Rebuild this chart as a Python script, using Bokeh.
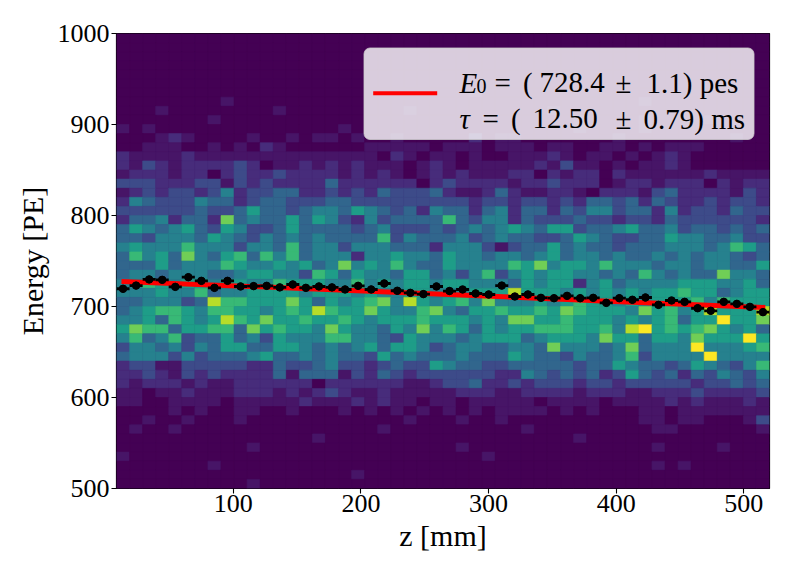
import numpy as np
from bokeh.plotting import figure
from bokeh.models import LinearColorMapper, BoxAnnotation, Label, FixedTicker, ColumnDataSource
from bokeh.transform import transform
from bokeh.embed import file_html
from bokeh.resources import INLINE
from bokeh.palettes import Viridis256

# ---------------- data ----------------
z_lo, z_hi, n_z = 8.5, 520.1, 50          # z [mm] binning
e_lo, e_hi, n_e = 500.0, 1000.0, 50       # Energy [PE] binning

# 2D histogram counts (colour level 0..10, 'A' = 10), top row = 990-1000 PE
hist_rows = [
    "0000000000000000000000000" "0000000000000000000000000",
    "0000000000000000000000000" "0000000000000000000000000",
    "0000000000000000000000000" "0000000000000000000000000",
    "0000000000000000000000000" "0000000000000000000000000",
    "0000000000000000000000000" "0000000000000000000000000",
    "0000000000000000000000000" "0000000000000000000000000",
    "0000000000000000000000000" "0010000000000000000000000",
    "0000000010000000000000000" "0000000000000001000000000",
    "0001000000001000000000100" "0000000010000000000000000",
    "0000000100000000000000000" "0001000000100001000010000",
    "1010000000000000010000000" "0000000000100001000000000",
    "0001210000100101101001000" "0020110000000100000000100",
    "0011100101021000000111110" "1110111011001101011100000",
    "2111121111111111111102101" "1010011121011010121000000",
    "2132122223201121212111012" "1011111213110101121000000",
    "1222122023223222212121012" "1211122021220211111121111",
    "3332223313232222422222202" "3222212232220122122202122",
    "1232332352334422323243334" "2112421122102221342222132",
    "2543335442344333443333333" "3323323323244342432232332",
    "3333334334644345546543425" "4424524424355344252332433",
    "2445244284544646532534444" "7435524333433233243333332",
    "4654564365334644443453334" "3454565466344564453443434",
    "4435554654354545444473544" "4534544334654334465544533",
    "5655575553554745535554442" "5553134464544344455545764",
    "4756485467475745552556554" "6554554564554544545455434",
    "4446455576556564585657544" "6555576856657555455455446",
    "4554555445665537646554664" "5357356566554547545448554",
    "5576566566557666557565665" "6655546566256455556665564",
    "5556557455666656665655665" "5566696665656565667664566",
    "4455534977666864656785965" "6758555656766565666757666",
    "4567765776656769766865578" "5466766768766658675696669",
    "5564765697686676676566676" "665658866766656567466A668",
    "6877466774867665865546585" "764656677766759A676786564",
    "5745734464536555775543655" "54566645666586646658666A6",
    "3554535466446654545646653" "4554455485554584555A55567",
    "4555353444564454544364544" "45444654435445735555A5555",
    "2331133333224334533234336" "5443344444344654434654357",
    "2232132322224144413243233" "3333225434342364342435435",
    "2122212112222220222222112" "3342232333233233333233434",
    "1101121112221212321121111" "1222112222122211222322223",
    "1100111101111121112121101" "1011111011110111121211121",
    "0000101001100100010101010" "1010111101010001101111111",
    "0010010001000000000000100" "0100100000000001101100013",
    "0100100000000000000010000" "0000001000000000110000001",
    "0000000000000001000000000" "0000000000100000000000000",
    "0000000000100000000000000" "0100000000000000100001000",
    "1000000000000000000000000" "0001000000000000000000000",
    "0000000100000000000000000" "0000000000000000101000000",
    "0000000000000000001000000" "0000000000000000000000000",
    "0000000000100000000000000" "0000000000000000000000000",
]

# profile: mean energy per z bin, and its error
profile_E = [719.5, 723.0, 729.7, 729.3, 721.6, 732.2, 728.2, 720.5, 728.2, 722.0,
             722.4, 722.7, 721.0, 724.2, 720.5, 722.0, 721.0, 718.7, 722.7, 718.7,
             725.3, 717.3, 715.0, 713.6, 722.0, 717.0, 718.7, 714.3, 713.2, 723.0,
             711.0, 713.2, 709.5, 709.1, 711.7, 709.1, 709.5, 704.0, 709.1, 707.4,
             709.9, 701.8, 706.6, 705.1, 698.1, 695.3, 705.1, 702.9, 699.6, 693.8]
profile_err = [4.2, 4.0, 4.0, 4.1, 3.9, 4.0, 4.1, 3.9, 4.0, 4.0,
               3.9, 4.0, 4.0, 4.1, 3.9, 4.0, 4.0, 4.0, 3.9, 4.0,
               4.1, 4.0, 3.9, 4.0, 4.0, 4.0, 3.9, 4.0, 4.1, 4.0,
               3.9, 4.0, 4.0, 3.9, 4.0, 4.0, 4.0, 3.9, 4.0, 4.0,
               4.1, 4.0, 3.9, 4.0, 4.0, 4.1, 4.0, 4.0, 4.1, 4.2]

# fitted exponential
fit_z = [12.4, 140.0, 264.0, 394.0, 516.8]
fit_E = [727.4, 720.6, 713.5, 705.9, 698.9]

legend_line1 = ["E", "0", "=", "(", "728.4", "\u00b1", "1.1) pes"]
legend_line2 = ["\u03c4", "=", "(", "12.50", "\u00b1", "0.79) ms"]

# ---------------- build ----------------
zw = (z_hi - z_lo) / n_z
ew = (e_hi - e_lo) / n_e
xs, ys, cs = [], [], []
for r, row in enumerate(hist_rows):
    row = row[:n_z].ljust(n_z, "0")
    for c, ch in enumerate(row):
        xs.append(z_lo + (c + 0.5) * zw)
        ys.append(e_hi - (r + 0.5) * ew)
        cs.append(int(ch, 16))
hsrc = ColumnDataSource(dict(x=xs, y=ys, c=cs))

idx = [0, 14, 32, 58, 84, 112, 142, 172, 200, 228, 255]
pal = [Viridis256[i] for i in idx]
mapper = LinearColorMapper(palette=pal, low=-0.5, high=10.5)

FONT = "Liberation Serif"
FR_L, FR_T, FR_W, FR_H = 116, 33, 653, 455   # frame position in the picture

def px_x(px):
    return z_lo + (px - FR_L) * (z_hi - z_lo) / FR_W

def px_y(py):
    return e_hi - (py - FR_T) * (e_hi - e_lo) / FR_H

p = figure(frame_width=FR_W, frame_height=FR_H,
           x_range=(z_lo, z_hi), y_range=(e_lo, e_hi),
           output_backend="svg", toolbar_location=None,
           min_border_left=FR_L, min_border_right=15,
           min_border_top=FR_T, min_border_bottom=80)
p.background_fill_color = pal[0]
p.border_fill_color = "white"
p.grid.visible = False
p.outline_line_color = "black"
p.outline_line_width = 1.2

p.rect(x="x", y="y", width=zw, height=ew, source=hsrc,
       fill_color=transform("c", mapper), line_color=transform("c", mapper), line_width=0.6)

p.line(fit_z, fit_E, line_color="#ff0000", line_width=5)

zc = [z_lo + (i + 0.5) * zw for i in range(n_z)]
p.segment(x0=[z - zw / 2 for z in zc], y0=profile_E, x1=[z + zw / 2 for z in zc], y1=profile_E,
          line_color="black", line_width=2.8)
p.segment(x0=zc, y0=[e - d for e, d in zip(profile_E, profile_err)],
          x1=zc, y1=[e + d for e, d in zip(profile_E, profile_err)],
          line_color="black", line_width=2.8)
p.scatter(zc, profile_E, size=7.5, marker="circle", fill_color="black", line_color="black")

# axes
for ax in (p.xaxis[0], p.yaxis[0]):
    ax.axis_line_color = None
    ax.major_tick_line_color = "black"
    ax.major_tick_line_width = 1.1
    ax.major_tick_out = 5
    ax.major_tick_in = 0
    ax.minor_tick_line_color = None
    ax.major_label_text_font = FONT
    ax.major_label_text_font_size = "26px"
    ax.major_label_text_color = "black"
    ax.axis_label_text_font = FONT
    ax.axis_label_text_font_size = "30px"
    ax.axis_label_text_font_style = "normal"
    ax.axis_label_text_color = "black"
p.xaxis.ticker = FixedTicker(ticks=[100, 200, 300, 400, 500])
p.yaxis.ticker = FixedTicker(ticks=[500, 600, 700, 800, 900, 1000])
p.xaxis.axis_label = "z [mm]"
p.yaxis.axis_label = "Energy [PE]"
p.xaxis.major_label_standoff = 1
p.yaxis.major_label_standoff = 2
p.xaxis.axis_label_standoff = 4
p.yaxis.axis_label_standoff = 6

# legend (drawn by hand)
p.add_layout(BoxAnnotation(left=px_x(363.5), right=px_x(753.5), top=px_y(47.5), bottom=px_y(139),
                           fill_color="white", fill_alpha=0.8, line_color="#cccccc", line_alpha=0.8,
                           line_width=1, border_radius=6))
p.add_layout(BoxAnnotation(left=px_x(372.7), right=px_x(436.7), top=px_y(90.7), bottom=px_y(94.7),
                           fill_color="#ff0000", fill_alpha=1.0, line_color=None))

def add_text(txt, px, py, size="29px", style="normal"):
    p.add_layout(Label(x=px_x(px), y=px_y(py), text=txt, text_font=FONT, text_font_size=size,
                       text_font_style=style, text_color="black", text_baseline="alphabetic",
                       text_align="left"))

l1x = [459, 476, 494, 522.5, 539, 615, 646]
for i, t in enumerate(legend_line1):
    if i == 0:
        add_text(t, l1x[i], 82, style="italic")
    elif i == 1:
        add_text(t, l1x[i], 85, size="20px")
    else:
        add_text(t, l1x[i], 82)
l2x = [459, 482, 510.5, 532, 615, 643]
for i, t in enumerate(legend_line2):
    add_text(t, l2x[i], 118, style="italic" if i == 0 else "normal")

open("out.html", "w").write(file_html(p, INLINE))
